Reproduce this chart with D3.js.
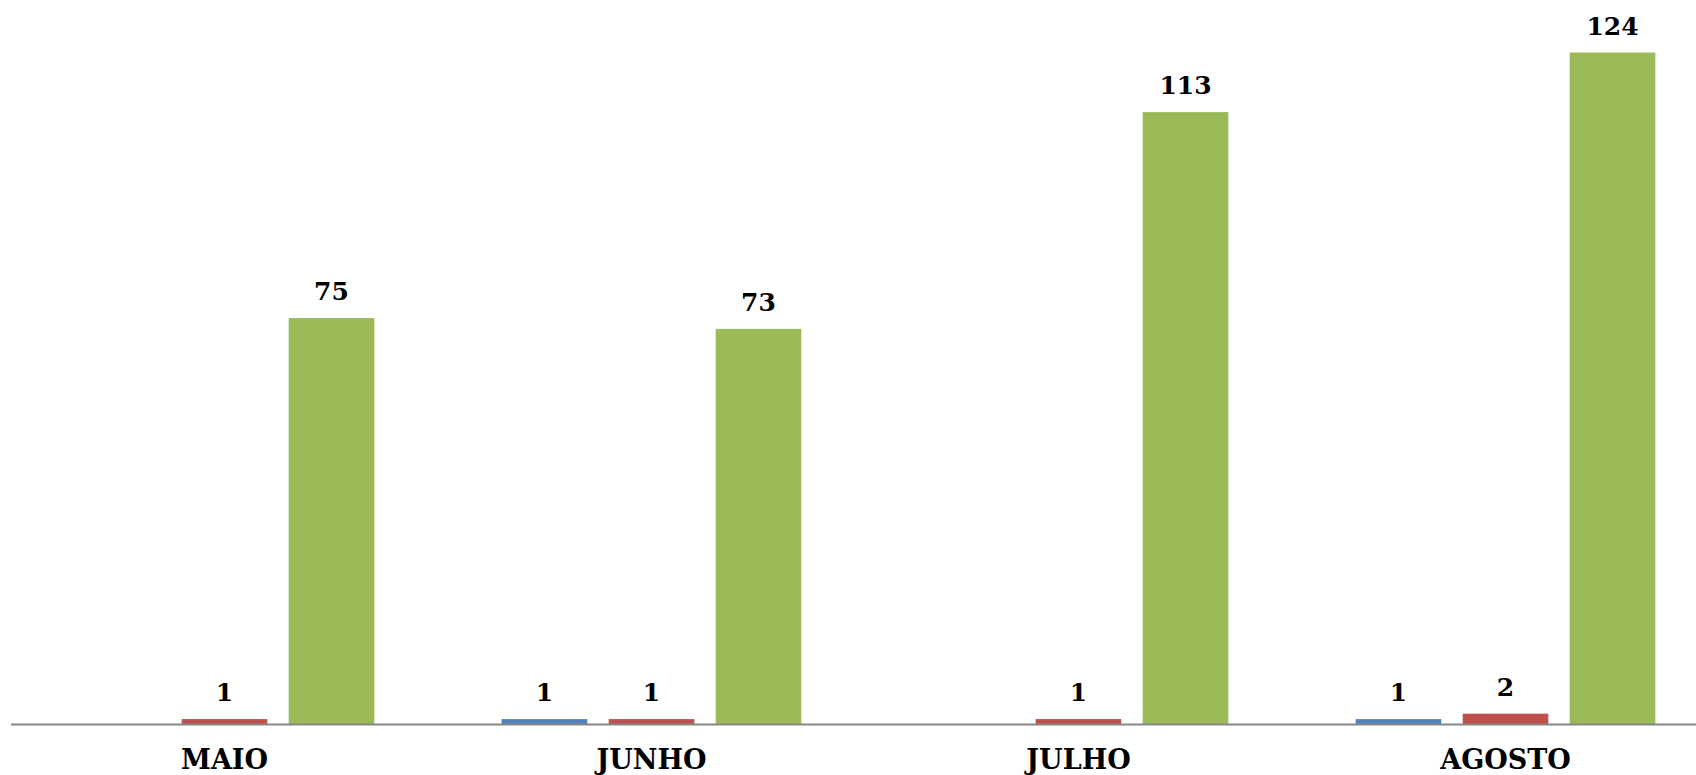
<!DOCTYPE html>
<html>
<head>
<meta charset="utf-8">
<script src="https://cdn.jsdelivr.net/npm/d3@7"></script>
<style>
  html, body { margin: 0; padding: 0; background: #fff; }
  svg { display: block; }
</style>
</head>
<body>
<svg id="chart" width="1696" height="775"></svg>
<script>
const categories = ["MAIO", "JUNHO", "JULHO", "AGOSTO"];
const seriesNames = ["s1", "s2", "s3"];
const seriesBlue = [0, 1, 0, 1];
const seriesRed = [1, 1, 1, 2];
const seriesGreen = [75, 73, 113, 124];
const seriesColors = ["#4F81BD", "#C0504D", "#9BBB59"];

const seriesValues = [seriesBlue, seriesRed, seriesGreen];

const W = 1696, H = 775;
const svg = d3.select("#chart");

const baseY = 724.5;
const x0 = d3.scaleBand().domain(categories).range([11, 1719]).paddingInner(0).paddingOuter(0);
const x1 = d3.scaleBand().domain(seriesNames).range([0, x0.bandwidth()]).paddingInner(0.2).paddingOuter(0.595);
const y = d3.scaleLinear().domain([0, 124]).range([baseY, 52.5]);

const data = [];
categories.forEach((c, i) => {
  seriesNames.forEach((s, j) => {
    data.push({cat: c, ser: s, value: seriesValues[j][i], color: seriesColors[j]});
  });
});

const g = svg.append("g");
g.selectAll("rect.bar").data(data.filter(d => d.value > 0)).join("rect")
  .attr("class", "bar")
  .attr("x", d => x0(d.cat) + x1(d.ser))
  .attr("y", d => y(d.value))
  .attr("width", x1.bandwidth())
  .attr("height", d => baseY - y(d.value))
  .attr("fill", d => d.color);

g.selectAll("text.lbl").data(data.filter(d => d.value > 0)).join("text")
  .attr("class", "lbl")
  .attr("x", d => x0(d.cat) + x1(d.ser) + x1.bandwidth() / 2)
  .attr("y", d => y(d.value) - 18)
  .attr("text-anchor", "middle")
  .attr("font-family", "DejaVu Serif")
  .attr("font-weight", "bold")
  .attr("font-size", 25)
  .attr("fill", "#000")
  .text(d => d.value);

// axis
const axis = d3.axisBottom(x0).tickSize(0).tickPadding(0);
const ax = svg.append("g").attr("transform", `translate(0,${baseY})`).call(axis);
ax.select(".domain").attr("stroke", "#868686").attr("stroke-width", 2.2).attr("d", `M11,0H1719`);
ax.selectAll(".tick text")
  .attr("font-family", "DejaVu Serif")
  .attr("font-weight", "bold")
  .attr("font-size", 27)
  .attr("fill", "#000")
  .attr("dy", null)
  .attr("y", 44)
  .attr("transform", null);
</script>
</body>
</html>
